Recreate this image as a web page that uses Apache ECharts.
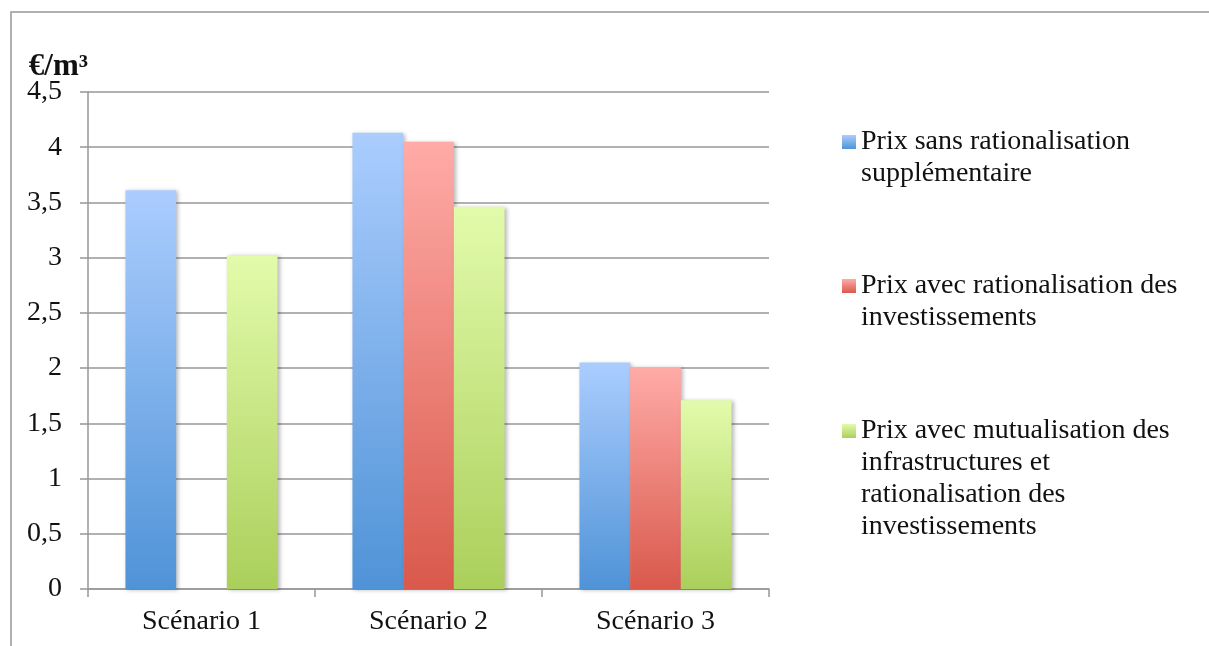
<!DOCTYPE html>
<html>
<head>
<meta charset="utf-8">
<script src="https://cdn.jsdelivr.net/npm/echarts@6/dist/echarts.min.js"></script>
<style>
  html, body { margin: 0; padding: 0; background: #fff; }
  #chart { width: 1209px; height: 646px; }
</style>
</head>
<body>
<div id="chart"></div>
<script>
// Prix de l'eau par scénario (€/m³)
const categories = ['Scénario 1', 'Scénario 2', 'Scénario 3'];
const seriesNames = [
  'Prix sans rationalisation supplémentaire',
  'Prix avec rationalisation des investissements',
  'Prix avec mutualisation des infrastructures et rationalisation des investissements'
];
// Legend text, broken into lines
const legendLines = [
  ['Prix sans rationalisation', 'supplémentaire'],
  ['Prix avec rationalisation des', 'investissements'],
  ['Prix avec mutualisation des', 'infrastructures et', 'rationalisation des', 'investissements']
];
const prixSansRationalisation = [3.61, 4.13, 2.05];
const prixAvecRationalisation = [null, 4.05, 2.01];
const prixAvecMutualisation = [3.02, 3.46, 1.71];
const yTicks = [0, 0.5, 1, 1.5, 2, 2.5, 3, 3.5, 4, 4.5];

const values = [prixSansRationalisation, prixAvecRationalisation, prixAvecMutualisation];
const gradients = [
  ['#abcdfe', '#4f93d7'],
  ['#ffaba7', '#d9594c'],
  ['#e2fbab', '#abcf5b']
];

const FONT = '"Liberation Serif", "DejaVu Serif", serif';
const GRAY = '#979797';
const TEXT = '#111';
const LABEL_FONT = 28;
const LEGEND_FONT = 28;
const LEGEND_LINE = 32;
const ICON = 14;
const iconTops = [135, 279, 424];

const chart = echarts.init(document.getElementById('chart'), null, { renderer: 'canvas' });

const grad = (c) => new echarts.graphic.LinearGradient(0, 0, 0, 1, [
  { offset: 0, color: c[0] },
  { offset: 1, color: c[1] }
]);

// One legend block per series. Blank lines ahead of the text keep the
// vertically centred block's first real line level with the icon.
const legends = seriesNames.map((name, i) => {
  const n = legendLines[i].length;
  const blank = new Array(n - 1).fill('');
  const outer = (2 * n - 1) * LEGEND_LINE;
  const offset = outer / 2 - ICON / 2;
  return {
    data: [name],
    orient: 'vertical',
    left: 842,
    top: iconTops[i] - offset,
    padding: 0,
    itemWidth: ICON,
    itemHeight: ICON,
    itemGap: 0,
    icon: 'rect',
    selectedMode: false,
    formatter: () => blank.concat(legendLines[i]).join('\n'),
    textStyle: {
      fontFamily: FONT,
      fontSize: LEGEND_FONT,
      lineHeight: LEGEND_LINE,
      color: TEXT
    }
  };
});

const option = {
  backgroundColor: '#fff',
  animation: false,
  graphic: [
    {
      type: 'polyline',
      shape: { points: [[11, 646], [11, 12], [1209, 12]] },
      style: { stroke: GRAY, lineWidth: 1.5, fill: null },
      silent: true
    }
  ],
  legend: legends,
  grid: { left: 88, right: 440, top: 92, bottom: 57 },
  xAxis: {
    type: 'category',
    data: categories,
    axisLine: { lineStyle: { color: GRAY, width: 1.5 } },
    axisTick: { show: true, length: 8, lineStyle: { color: GRAY, width: 1.5 } },
    axisLabel: { fontFamily: FONT, fontSize: LABEL_FONT, color: TEXT, margin: 19 }
  },
  yAxis: {
    type: 'value',
    min: yTicks[0],
    max: yTicks[yTicks.length - 1],
    interval: yTicks[1] - yTicks[0],
    name: '€/m³',
    nameLocation: 'end',
    nameGap: 41,
    nameMoveOverlap: false,
    nameTextStyle: {
      fontFamily: FONT, fontSize: 31, fontWeight: 'bold', color: TEXT,
      align: 'right', verticalAlign: 'top'
    },
    axisLine: { show: true, lineStyle: { color: GRAY, width: 1.5 } },
    axisTick: { show: true, length: 8, lineStyle: { color: GRAY, width: 1.5 } },
    splitLine: { lineStyle: { color: GRAY, width: 1.5 } },
    axisLabel: {
      fontFamily: FONT, fontSize: LABEL_FONT, color: TEXT, margin: 26,
      formatter: (v) => String(v).replace('.', ',')
    }
  },
  series: seriesNames.map((name, i) => ({
    name,
    type: 'bar',
    data: values[i],
    barGap: '0%',
    barCategoryGap: '33%',
    itemStyle: {
      color: grad(gradients[i]),
      shadowColor: 'rgba(0,0,0,0.28)',
      shadowBlur: 4,
      shadowOffsetX: 2,
      shadowOffsetY: 1
    }
  }))
};

chart.setOption(option);
</script>
</body>
</html>
